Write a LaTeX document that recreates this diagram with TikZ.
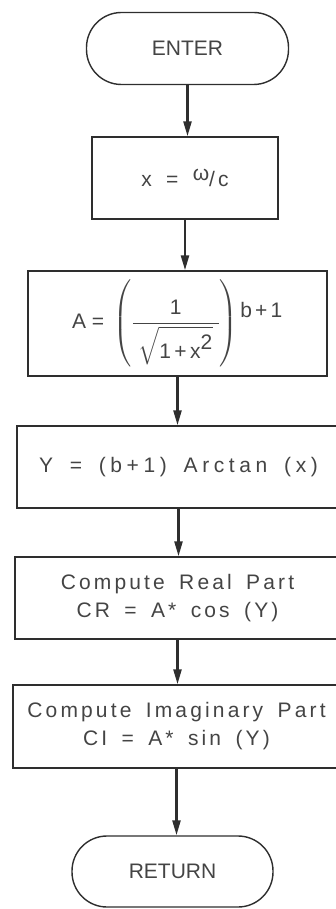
\documentclass[tikz,border=0pt]{standalone}
\usepackage{amsmath}
\usepackage{fontspec}
\usepackage{tikz}
\usetikzlibrary{positioning,arrows.meta,calc}
\newfontfamily\lpfont[LetterSpace=15,WordSpace=1.6]{Liberation Sans}
\newfontfamily\lpcaps{Liberation Sans}
\newfontfamily\lpwide[LetterSpace=22,WordSpace=1.6]{Liberation Sans}
\newcommand\lpsize{\fontsize{21}{28}\selectfont}
\definecolor{InkGray}{HTML}{2E2E2E}
\definecolor{TextGray}{HTML}{444444}

\begin{document}
\begin{tikzpicture}[x=1pt,y=-1pt,
    box/.style={draw=InkGray, line width=1.4pt, minimum width=#1,
                minimum height=82pt, align=center, inner sep=0pt},
    box/.default=300pt,
    term/.style={draw=InkGray, line width=1.4pt, rounded corners=35pt,
                 minimum width=202pt, minimum height=72pt, font=\lpsize\lpcaps},
    flow/.style={draw=InkGray, line width=2.4pt,
                 -{Triangle[length=15pt,width=8pt]}},
    font=\lpsize\lpfont, text=TextGray]
  \useasboundingbox (0,0) rectangle (336,909);

  \node[term] (enter) at (187.5,48.5) {ENTER};
  \node[box=186pt] (xbox) at (185,178) {x = \raisebox{6pt}{ω}/c};
  \node[box=299pt, minimum height=105pt] (abox) at (177.5,323.5)
    {$\mbox{A}\;\mbox{=}\;\left(\rule[-32pt]{0pt}{66pt}\dfrac{\mbox{1}}{\;\sqrt{\mbox{1\,+\,x}^{\mbox{2}}}\;}\right)^{\,\raisebox{-32pt}{\mbox{b+1}}}$};
  \node[box=323pt, font=\lpsize\lpwide] (ybox) at (178.5,467) {Y = (b+1) Arctan (x)};
  \node[box=325pt] (crbox) at (177.5,598) {Compute Real Part\\CR = A* cos (Y)};
  \node[box=327pt, minimum height=83pt] (cibox) at (176.5,726.5)
    {Compute Imaginary Part\\CI = A* sin (Y)};
  \node[term, minimum width=201pt, minimum height=71pt] (return) at (172.5,871.5) {RETURN};

  % flow lines
  \foreach \a/\b in {enter/xbox, xbox/abox, abox/ybox, ybox/crbox, crbox/cibox, cibox/return}
    \draw[flow] (\a.south) -- (\a.south |- \b.north);
\end{tikzpicture}
\end{document}
